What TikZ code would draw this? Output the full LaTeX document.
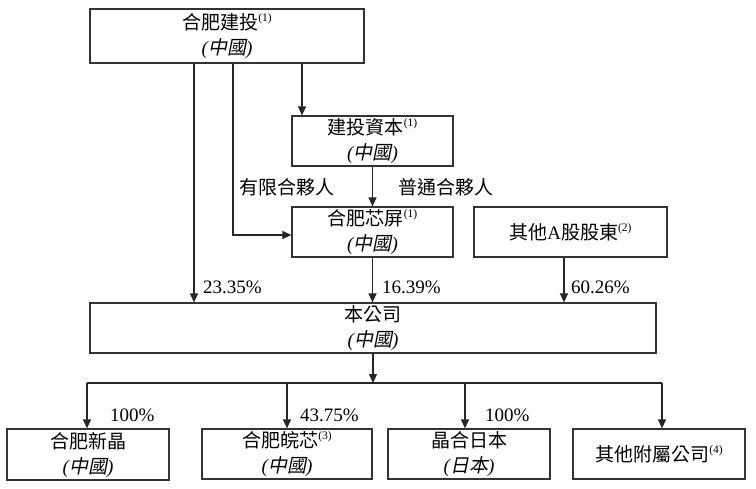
\documentclass[tikz,border=0pt]{standalone}
\usepackage{fontspec}
\setmainfont{Liberation Serif}
\newfontfamily\cjk{Noto Sans CJK TC}
\newfontfamily\cjkit{Noto Sans CJK TC}[FakeSlant=0.2]
\usetikzlibrary{arrows.meta}
\newcommand{\fn}[1]{\raisebox{.4em}{\fontsize{11.5}{11.5}\selectfont(#1)}}
\newcommand{\place}[1]{{\itshape(}{\cjkit #1}{\itshape)}}

\begin{document}
\begin{tikzpicture}
  [x=1pt,y=-1pt,font=\fontsize{19}{25}\selectfont]
      \tikzstyle{box_style} = [draw=black!80, line width=1.2pt, inner sep=0pt, align=center, minimum height=50pt]
      \tikzstyle{edge_style} = [draw=black!85, line width=1.2pt, -{Triangle[length=9pt,width=8pt]}]
      \tikzstyle{line_style} = [draw=black!85, line width=1.2pt]
      \tikzstyle{pct_style} = [anchor=west, inner sep=0pt]
  \useasboundingbox (0,0) rectangle (756,488);
  \node[box_style, minimum width=274pt, minimum height=54pt] (jt) at (227,36) {{\cjk 合肥建投}\fn{1}\\\place{中國}};
  \node[box_style, minimum width=161pt] (zb) at (372.5,141) {{\cjk 建投資本}\fn{1}\\\place{中國}};
  \node[box_style, minimum width=161pt] (xp) at (372.5,232) {{\cjk 合肥芯屏}\fn{1}\\\place{中國}};
  \node[box_style, minimum width=193pt] (qt) at (570.5,232) {{\cjk 其他}A{\cjk 股股東}\fn{2}};
  \node[box_style, minimum width=566pt] (bgs) at (373,328) {{\cjk 本公司}\\\place{中國}};
  \node[box_style, minimum width=162pt, minimum height=51pt] (xj) at (88,454.5) {{\cjk 合肥新晶}\\\place{中國}};
  \node[box_style, minimum width=170pt] (wx) at (287,454) {{\cjk 合肥皖芯}\fn{3}\\\place{中國}};
  \node[box_style, minimum width=162pt] (rb) at (469,454) {{\cjk 晶合日本}\\\place{日本}};
  \node[box_style, minimum width=172pt] (qf) at (659,454) {{\cjk 其他附屬公司}\fn{4}};
  \coordinate (a1) at (194,0);
  \coordinate (a2) at (233,0);
  \coordinate (a3) at (302,0);
  \coordinate (a4) at (564,0);
  \coordinate (bar) at (373,383);
  \coordinate (b1) at (87,383);
  \coordinate (b2) at (287,383);
  \coordinate (b3) at (465,383);
  \coordinate (b4) at (662,383);
  \draw[edge_style] (jt.south -| a1) -- (bgs.north -| a1);
  \draw[edge_style] (jt.south -| a2) |- ([yshift=-3pt]xp.west);
  \draw[edge_style] (jt.south -| a3) -- (zb.north -| a3);
  \draw[edge_style] (zb) -- (xp);
  \draw[edge_style] (xp.south) -- (xp.south |- bgs.north);
  \draw[edge_style] (qt.south -| a4) -- (bgs.north -| a4);
  \draw[edge_style] (bgs.south) -- (bar);
  \draw[line_style] (b1) -- (b4);
  \draw[edge_style] (b1) -- (b1 |- xj.north);
  \draw[edge_style] (b2) -- (b2 |- wx.north);
  \draw[edge_style] (b3) -- (b3 |- rb.north);
  \draw[edge_style] (b4) -- (b4 |- qf.north);
  \node[inner sep=0pt] (yx) at (287,187) {\cjk 有限合夥人};
  \node[inner sep=0pt] (pt) at (446,187) {\cjk 普通合夥人};
  \node[pct_style] (p1) at (203,287) {23.35\%};
  \node[pct_style] (p2) at (382,287) {16.39\%};
  \node[pct_style] (p3) at (571,287) {60.26\%};
  \node[pct_style] (p4) at (110,415) {100\%};
  \node[pct_style] (p5) at (300,415) {43.75\%};
  \node[pct_style] (p6) at (485,415) {100\%};
\end{tikzpicture}
\end{document}
